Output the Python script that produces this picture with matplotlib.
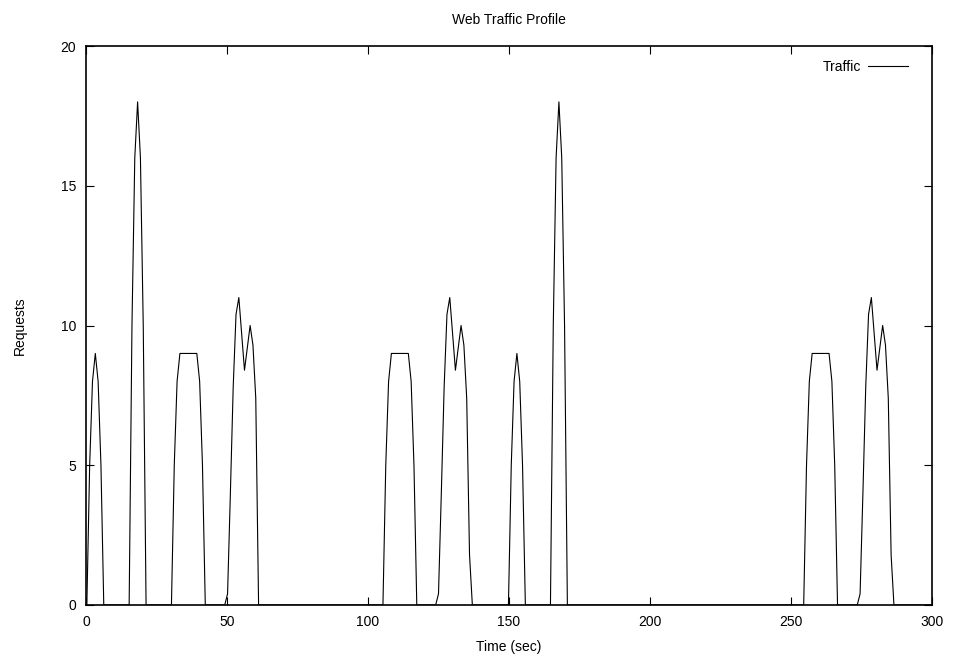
import numpy as np
import matplotlib
matplotlib.use("Agg")
import matplotlib.pyplot as plt

# burst shapes, one sample per second
small_peak = [0, 5, 8, 9, 8, 5, 0]
big_peak = [0, 10, 16, 18, 16, 10, 0]
plateau = [0, 5, 8, 9, 9, 9, 9, 9, 9, 9, 8, 5, 0]
double_short = [0, 0.4, 4, 7.8, 10.4, 11, 9.7, 8.4, 9.2, 10, 9.3, 7.4, 0]
double_long = [0, 0.4, 4, 7.8, 10.4, 11, 9.7, 8.4, 9.2, 10, 9.3, 7.4, 1.8, 0]

# start time of each burst (sec)
bursts = [
    (0.3, small_peak),
    (15.3, big_peak),
    (30.3, plateau),
    (49.2, double_short),
    (105.3, plateau),
    (124.0, double_long),
    (149.8, small_peak),
    (164.7, big_peak),
    (254.5, plateau),
    (273.5, double_long),
]

t = [0.0]
req = [0.0]
for start, shape in bursts:
    for i, v in enumerate(shape):
        t.append(start + i)
        req.append(v)
t.append(300.0)
req.append(0.0)

plt.rcParams['font.family'] = ['Liberation Sans', 'DejaVu Sans']
plt.rcParams['font.size'] = 10

fig = plt.figure(figsize=(9.55, 6.68), dpi=100)
ax = fig.add_axes([86/955, 1-605/668, (932-86)/955, (605-46)/668])

ax.plot(t, req, color='black', linewidth=0.8, label='Traffic', zorder=2)

ax.set_xlim(0, 300)
ax.set_ylim(0, 20)
ax.set_xticks(np.arange(0, 301, 50))
ax.set_yticks(np.arange(0, 21, 5))
ax.tick_params(direction='in', length=6, width=0.8, top=True, right=True,
               labelsize=10, pad=7)
for s in ax.spines.values():
    s.set_linewidth(1.2)
    s.set_zorder(3)

ax.set_title('Web Traffic Profile', fontsize=10, pad=16)
ax.set_xlabel('Time (sec)', fontsize=10, labelpad=8)
ax.set_ylabel('Requests', fontsize=10, labelpad=24)

ax.legend(loc='upper right', bbox_to_anchor=(0.988, 1.0), frameon=False,
          markerfirst=False, handlelength=2.9, handletextpad=0.5,
          fontsize=10, borderaxespad=0.6)

fig.savefig('out.png', dpi=100)
